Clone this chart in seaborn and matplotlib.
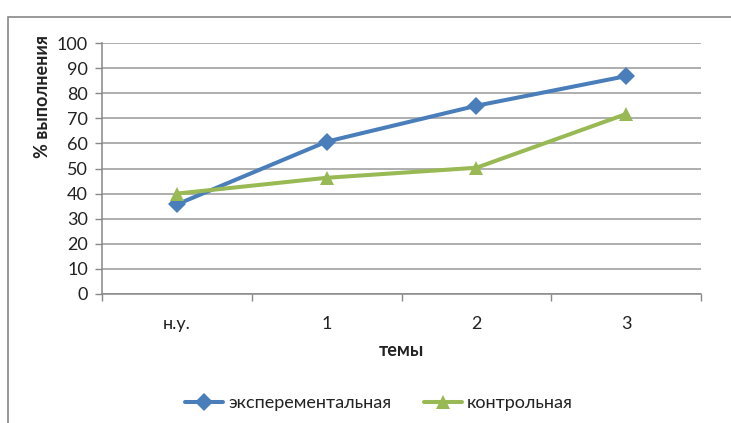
import matplotlib
matplotlib.use("Agg")
import matplotlib.pyplot as plt
import seaborn as sns
import pandas as pd
from matplotlib.patches import Rectangle
from matplotlib.lines import Line2D

categories = ["н.у.", "1", "2", "3"]
experimental = [35.7, 60.7, 75.0, 86.8]
control = [40.0, 46.3, 50.3, 71.7]
series_names = ["эксперементальная", "контрольная"]
y_ticks = [0, 10, 20, 30, 40, 50, 60, 70, 80, 90, 100]

sns.set_theme(style="white")
plt.rcParams["font.family"] = ["Lato", "DejaVu Sans"]

df = pd.DataFrame({
    "pos": list(range(len(categories))) * 2,
    "val": experimental + control,
    "series": [series_names[0]] * 4 + [series_names[1]] * 4,
})

W, H = 731, 423
FS = 13
fig = plt.figure(figsize=(W / 100, H / 100), dpi=100)
fig.patch.set_facecolor("white")
# outer chart border
fig.patches.append(Rectangle((8 / W, -0.1), 1.2, 1 - 17 / H + 0.1, transform=fig.transFigure,
                             fill=False, edgecolor="#888888", linewidth=1.2))

ax = fig.add_axes([102 / W, 1 - 294 / H, (701 - 102) / W, (294 - 43) / H])
ax.set_facecolor("none")

palette = {series_names[0]: "#4a7ebb", series_names[1]: "#98b954"}
markers = {series_names[0]: "D", series_names[1]: "^"}
msizes = {series_names[0]: 9, series_names[1]: 10.5}
for n in series_names:
    sub = df[df["series"] == n]
    sns.lineplot(data=sub, x="pos", y="val", color=palette[n], marker=markers[n],
                 linewidth=2.9, markersize=msizes[n], markeredgewidth=0, ax=ax,
                 legend=False, zorder=3)

ax.set_xlim(-0.5, 3.5)
ax.set_ylim(0, 100)
ax.set_yticks(y_ticks)
ax.set_yticklabels([str(v) for v in y_ticks])
ax.set_xticks(range(len(categories)))
ax.set_xticklabels(categories)
ax.set_xticks([-0.5, 0.5, 1.5, 2.5, 3.5], minor=True)
ax.tick_params(axis="x", which="major", length=0, pad=16, labelsize=FS, colors="#222222")
ax.tick_params(axis="x", which="minor", length=5, width=1, color="#888888", direction="out", bottom=True)
ax.tick_params(axis="y", which="major", length=5, width=1, color="#888888", direction="out",
               left=True, pad=5, labelsize=FS, labelcolor="#222222")
ax.grid(axis="y", color="#999999", linewidth=1.1)
ax.set_axisbelow(True)
for s in ["top", "right"]:
    ax.spines[s].set_visible(False)
for s in ["left", "bottom"]:
    ax.spines[s].set_color("#888888")
    ax.spines[s].set_linewidth(1.1)

ax.set_xlabel("темы", fontsize=FS, fontweight="bold", color="#222222")
ax.xaxis.set_label_coords(0.5, -(350 - 294) / 251, transform=ax.transAxes)
ax.xaxis.label.set_va("center")
ax.set_ylabel("% выполнения", fontsize=FS, fontweight="bold", color="#222222")
ax.yaxis.set_label_coords((42 - 102) / 599, (294 - 97) / 251, transform=ax.transAxes)
ax.yaxis.label.set_va("center")

# legend
handles = [Line2D([], [], color=palette[n], marker=markers[n], markersize=msizes[n],
                  markeredgewidth=0, linewidth=2.9) for n in series_names]
fig.legend(handles, series_names, loc="center", bbox_to_anchor=(379 / W, 1 - 403 / H),
           ncol=2, frameon=False, fontsize=FS, handlelength=2.1, columnspacing=1.8,
           handletextpad=0.3, labelcolor="#222222")

fig.savefig("out.png", dpi=100)
